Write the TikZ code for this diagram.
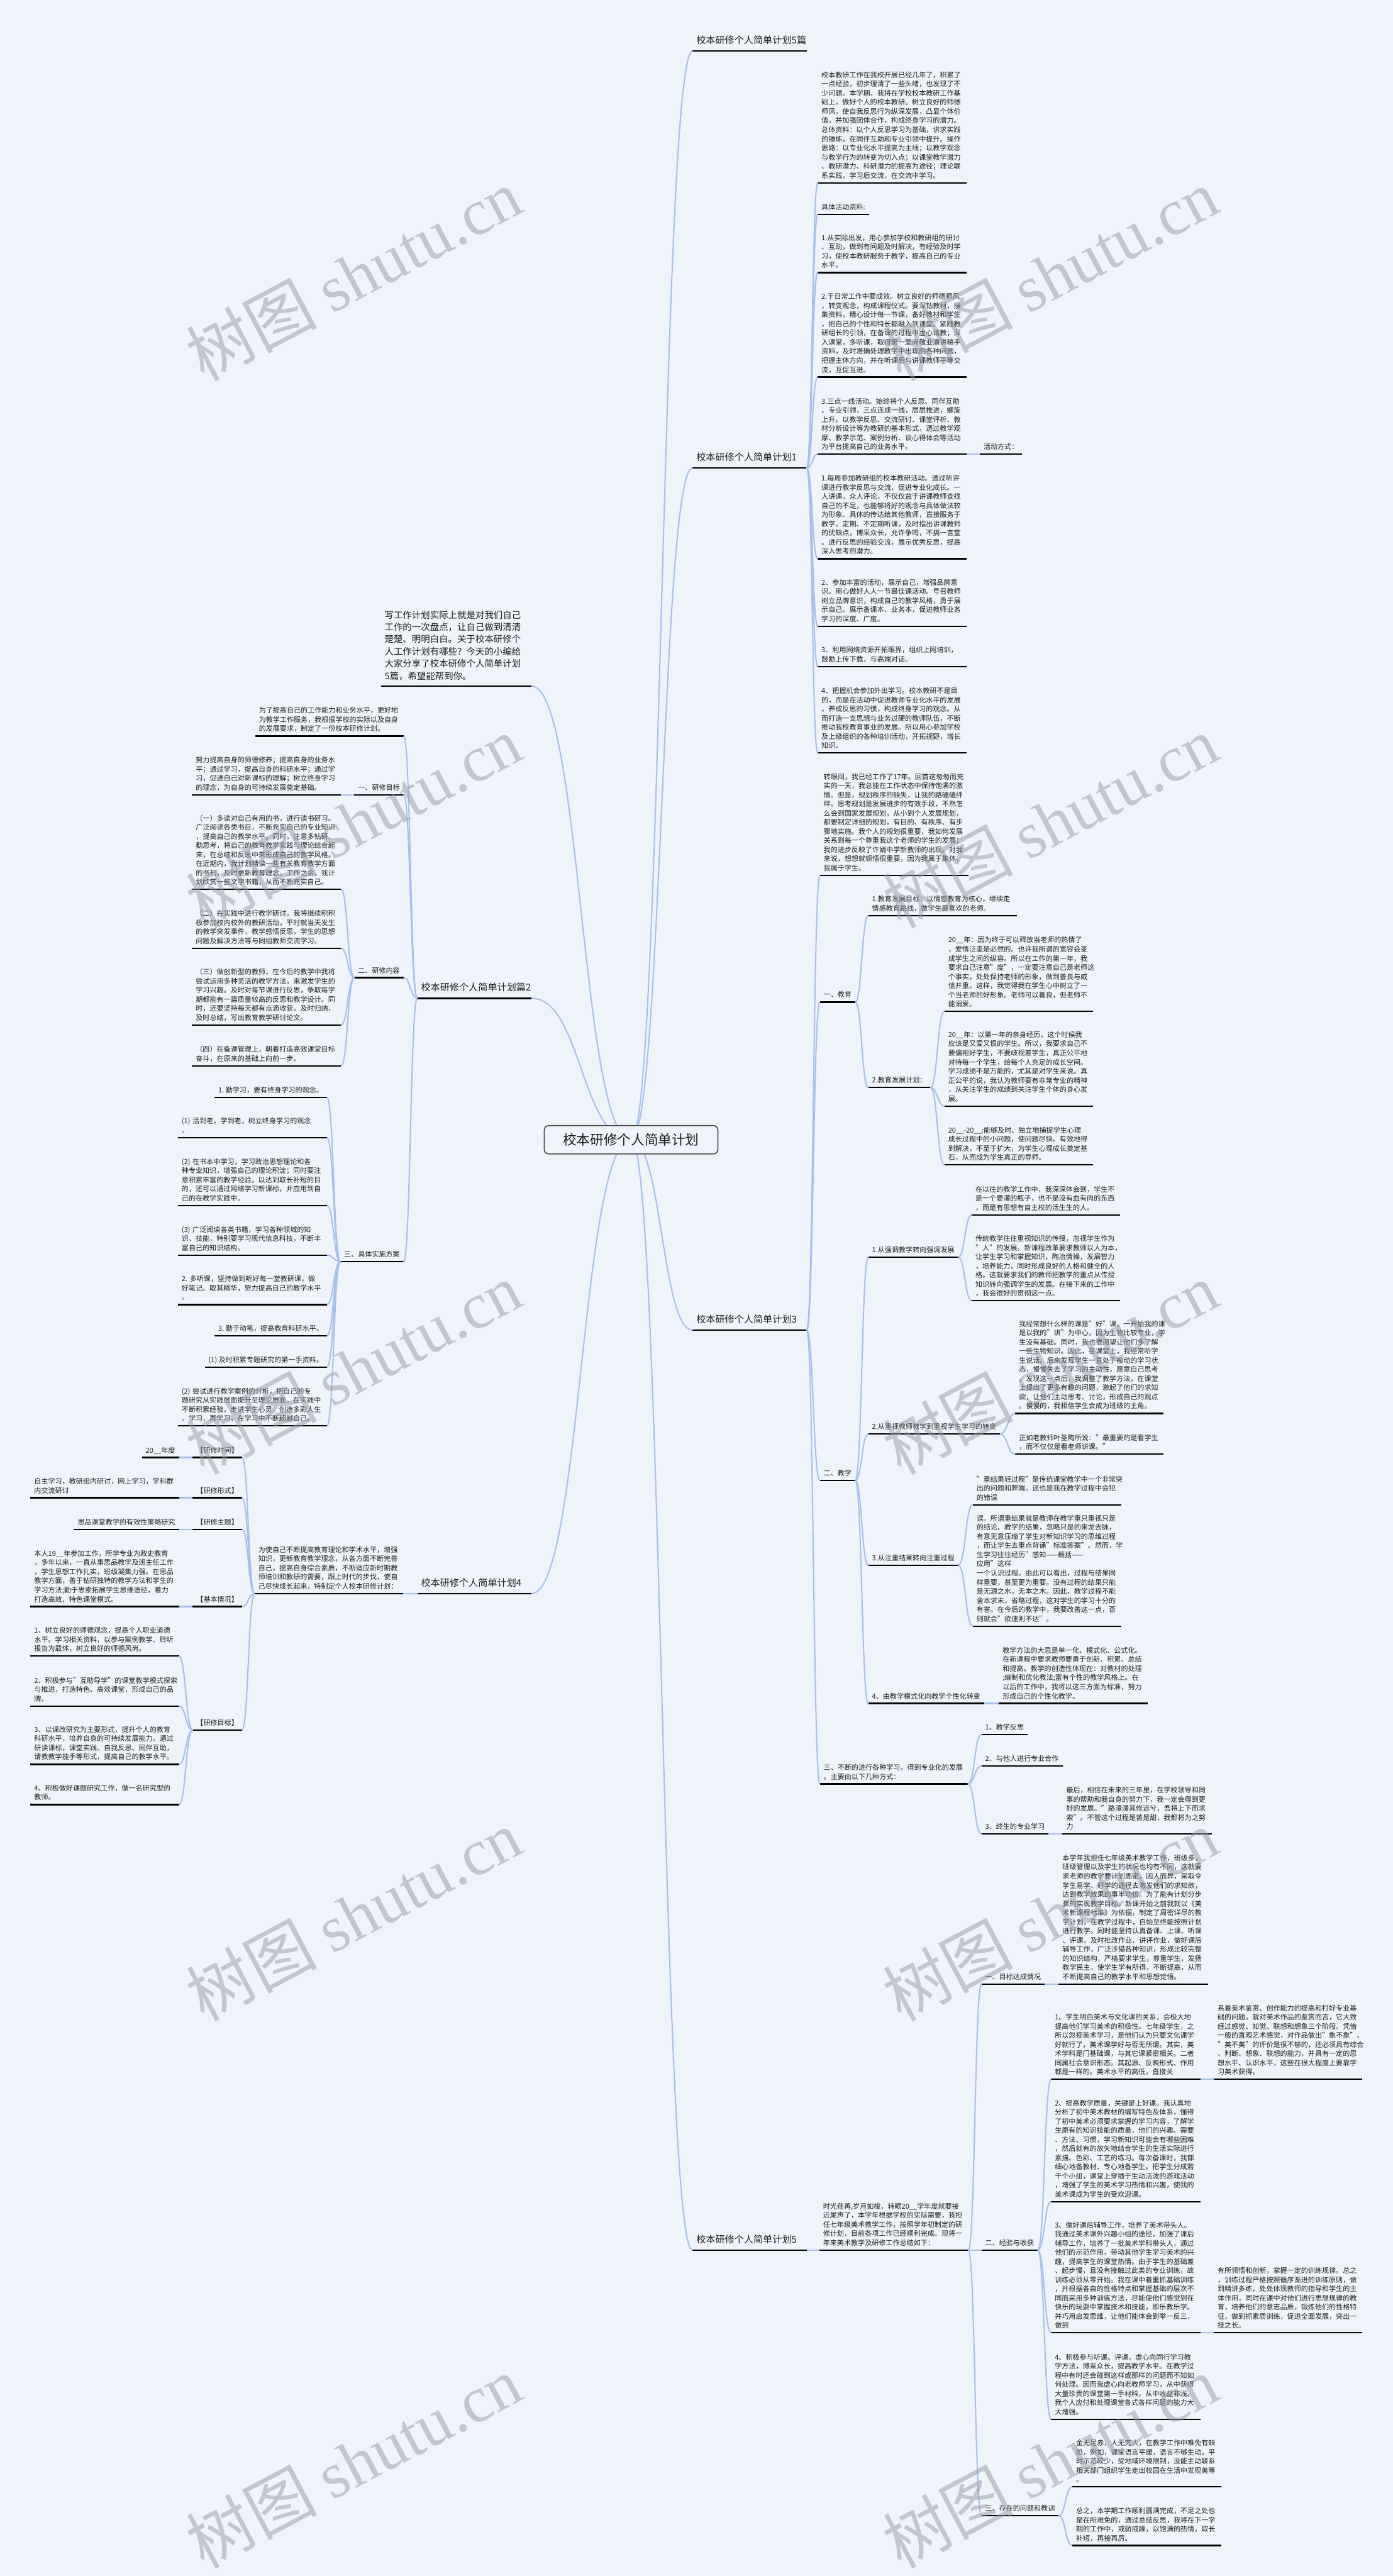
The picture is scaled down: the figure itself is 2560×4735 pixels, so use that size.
\documentclass[tikz,border=0pt]{standalone}
\usepackage{fontspec}
\setmainfont{Noto Sans CJK SC}
\newfontfamily\wmlatin{Liberation Serif}
\usetikzlibrary{calc}
\definecolor{bgc}{RGB}{239,243,250}
\definecolor{lineblue}{RGB}{168,193,234}
\definecolor{txt}{RGB}{30,30,30}
\definecolor{wmgray}{RGB}{150,155,165}
\definecolor{rootborder}{RGB}{80,80,80}
\begin{document}
\begin{tikzpicture}[x=1pt,y=-1pt,
  ul/.style={draw=black,line width=2.6pt},
  conn/.style={draw=lineblue,line width=2.4pt,
    to path={let \p1=(\tikztostart),\p2=(\tikztotarget) in .. controls ({(\x1+\x2)/2},\y1) and ({(\x1+\x2)/2},\y2) .. (\tikztotarget)}},
  base/.style={text=txt,outer sep=0pt,execute at begin node=\strut,execute at end node=\strut,
    append after command={(\tikzlastnode.south west) edge[ul] (\tikzlastnode.south east)}},
  body/.style={base,font=\fontsize{12.8}{16.8}\selectfont,inner xsep=7pt,inner ysep=3.6pt},
  rb/.style={body,anchor=south west},
  lb/.style={body,anchor=south east},
  para/.style={align=left,text width=#1},
  head/.style={base,font=\fontsize{17.5}{22}\selectfont,inner xsep=7pt,inner ysep=6.9pt,align=left,text width=196pt,anchor=south west},
  headL/.style={head,anchor=south east},
  intro/.style={base,font=\fontsize{16.7}{22.4}\selectfont,inner xsep=7pt,inner ysep=5.8pt,align=left,text width=263pt,anchor=south east},
  rootbox/.style={draw=rootborder,line width=2pt,rounded corners=8pt,fill=bgc,font=\fontsize{25}{30}\selectfont,text=txt,minimum width=319pt,minimum height=52pt,inner sep=0pt},
  wm/.style={rotate=28,font=\fontsize{120}{120}\selectfont,text=wmgray,text opacity=0.5}
]
\fill[bgc] (0,0) rectangle (2560,4735);
\useasboundingbox (0,0) rectangle (2560,4735);

% ---------------- right: 5篇 ----------------
\node[head] (h0) at (1273,94) {校本研修个人简单计划5篇};

% ---------------- right: plan 1 ----------------
\node[head] (h1) at (1273,860) {校本研修个人简单计划1};
\node[rb,para=260pt] (c1) at (1503,336) {校本教研工作在我校开展已经几年了，积累了\\一点经验，初步理清了一些头绪，也发现了不\\少问题。本学期，我将在学校校本教研工作基\\础上，做好个人的校本教研。树立良好的师德\\师风，使自我反思行为纵深发展，凸显个体价\\值，并加强团体合作，构成终身学习的潜力。\\总体资料：以个人反思学习为基础，讲求实践\\的锤炼，在同伴互助和专业引领中提升。操作\\思路：以专业化水平提高为主线；以教学观念\\与教学行为的转变为切入点；以课堂教学潜力\\、教研潜力、科研潜力的提高为途径；理论联\\系实践，学习后交流，在交流中学习。};
\node[rb] (c2) at (1503,394) {具体活动资料:};
\node[rb,para=260pt] (c3) at (1503,501) {1.从实际出发，用心参加学校和教研组的研讨\\、互助，做到有问题及时解决，有经验及时学\\习，使校本教研服务于教学，提高自己的专业\\水平。};
\node[rb,para=260pt] (c4) at (1503,693) {2.于日常工作中要成效。树立良好的师德师风\\，转变观念，构成课程仪式。要深钻教材，搜\\集资料，精心设计每一节课，备好教材和学生\\，把自己的个性和特长都融入到课堂。紧随教\\研组长的引领，在备课的过程中虚心请教；深\\入课堂，多听课，取得第一爱岗敬业演讲稿手\\资料，及时准确处理教学中出现的各种问题，\\把握主体方向，并在听课后与讲课教师平等交\\流，互促互进。};
\node[rb,para=260pt] (c5) at (1503,835) {3.三点一线活动。始终将个人反思、同伴互助\\、专业引领，三点连成一线，层层推进，螺旋\\上升。以教学反思、交流研讨、课堂评析、教\\材分析设计等为教研的基本形式，透过教学观\\摩、教学示范、案例分析、谈心得体会等活动\\为平台提高自己的业务水平。};
\node[rb] (c5a) at (1801,835) {活动方式：};
\node[rb,para=260pt] (c6) at (1503,1027) {1.每周参加教研组的校本教研活动。透过听评\\课进行教学反思与交流，促进专业化成长。一\\人讲课，众人评论，不仅仅益于讲课教师查找\\自己的不足，也能够将好的观念与具体做法较\\为形象、具体的传达给其他教师，直接服务于\\教学。定期、不定期听课，及时指出讲课教师\\的优缺点，博采众长，允许争鸣，不搞一言堂\\。进行反思的经验交流，展示优秀反思，提高\\深入思考的潜力。};
\node[rb,para=260pt] (c7) at (1503,1151) {2、参加丰富的活动，展示自己，增强品牌意\\识。用心做好人人一节最佳课活动。号召教师\\树立品牌意识，构成自己的教学风格，勇于展\\示自己。展示备课本、业务本，促进教师业务\\学习的深度、广度。};
\node[rb,para=260pt] (c8) at (1503,1225) {3、利用网络资源开拓眼界，组织上网培训，\\鼓励上传下载，与高端对话。};
\node[rb,para=260pt] (c9) at (1503,1384) {4、把握机会参加外出学习。校本教研不是目\\的，而是在活动中促进教师专业化水平的发展\\，养成反思的习惯，构成终身学习的观念。从\\而打造一支思想与业务过硬的教师队伍，不断\\推动我校教育事业的发展。所以用心参加学校\\及上级组织的各种培训活动，开拓视野，增长\\知识。};

% ---------------- right: plan 3 ----------------
\node[head] (h3) at (1273,2445) {校本研修个人简单计划3};
\node[rb,para=259pt] (p3a) at (1507,1609) {转眼间，我已经工作了17年。回首这匆匆而充\\实的一天，我总能在工作状态中保持饱满的激\\情。但是，规划秩序的缺失，让我的路磕磕绊\\绊。思考规划是发展进步的有效手段，不然怎\\么会到国家发展规划，从小到个人发展规划，\\都要制定详细的规划，有目的、有秩序、有步\\骤地实施。我个人的规划很重要，我如何发展\\关系到每一个尊重我这个老师的学生的发展；\\我的进步反映了许婧中学新教师的出现。对我\\来说，想想就顿悟很重要，因为我属于集体，\\我属于学生。};
\node[rb] (p3b) at (1507,1842) {一、教育};
\node[rb,para=259pt] (p3b1) at (1596,1683) {1.教育发展目标：以情感教育为核心，继续走\\情感教育路线，做学生最喜欢的老师。};
\node[rb] (p3b2) at (1596,1999) {2.教育发展计划：};
\node[rb,para=259pt] (p3b2a) at (1736,1859) {20\_\_年：因为终于可以释放当老师的热情了\\，爱情泛滥是必然的。也许我所谓的宽容会变\\成学生之间的纵容。所以在工作的第一年，我\\要求自己注意"度"，一定要注意自己是老师这\\个事实，处处保持老师的形象，做到善良与威\\信并重。这样，我觉得我在学生心中树立了一\\个当老师的好形象。老师可以善良，但老师不\\能溺爱。};
\node[rb,para=259pt] (p3b2b) at (1736,2033) {20\_\_年：以第一年的亲身经历，这个时候我\\应该是又爱又恨的学生。所以，我要求自己不\\要偏袒好学生，不要歧视差学生，真正公平地\\对待每一个学生，给每个人充足的成长空间。\\学习成绩不是万能的，尤其是对学生来说。真\\正公平的说，我认为教师要有非常专业的精神\\，从关注学生的成绩到关注学生个体的身心发\\展。};
\node[rb,para=259pt] (p3b2c) at (1736,2141) {20\_\_-20\_\_:能够及时、独立地捕捉学生心理\\成长过程中的小问题，使问题尽快、有效地得\\到解决，不至于扩大，为学生心理成长奠定基\\石，从而成为学生真正的导师。};
\node[rb] (p3c) at (1507,2721) {二、教学};
\node[rb] (p3c1) at (1596,2311) {1.从强调教学转向强调发展};
\node[rb,para=259pt] (p3c1a) at (1786,2233) {在以往的教学工作中，我深深体会到，学生不\\是一个要灌的瓶子，也不是没有血有肉的东西\\，而是有思想有自主权的活生生的人。};
\node[rb,para=259pt] (p3c1b) at (1786,2391) {传统教学往往重视知识的传授，忽视学生作为\\"人"的发展。新课程改革要求教师以人为本，\\让学生学习和掌握知识，陶冶情操，发展智力\\，培养能力，同时形成良好的人格和健全的人\\格。这就要求我们的教师把教学的重点从传授\\知识转向强调学生的发展。在接下来的工作中\\，我会很好的贯彻这一点。};
\node[rb] (p3c2) at (1596,2636) {2.从重视教师教学到重视学生学习的转变};
\node[rb,para=259pt] (p3c2a) at (1866,2598) {我经常想什么样的课是"好"课。一开始我的课\\是以我的"讲"为中心，因为生物比较专业，学\\生没有基础。同时，我也很渴望让他们多了解\\一些生物知识。因此，在课堂上，我经常听学\\生说话。后来发现学生一直处于被动的学习状\\态，慢慢失去了学习的主动性，愿意自己思考\\。发现这一点后，我调整了教学方法，在课堂\\上提出了更多有趣的问题，激起了他们的求知\\欲，让他们主动思考、讨论，形成自己的观点\\。慢慢的，我相信学生会成为班级的主角。};
\node[rb,para=259pt] (p3c2b) at (1866,2673) {正如老教师叶圣陶所说："最重要的是看学生\\，而不仅仅是看老师讲课。"};
\node[rb] (p3c3) at (1596,2877) {3.从注重结果转向注重过程};
\node[rb,para=259pt] (p3c3a) at (1788,2766) {"重结果轻过程"是传统课堂教学中一个非常突\\出的问题和弊端。这也是我在教学过程中会犯\\的错误};
\node[rb,para=259pt] (p3c3b) at (1788,2989) {误。所谓重结果就是教师在教学重只重视只是\\的结论、教学的结果，忽略只是的来龙去脉，\\有意无意压缩了学生对新知识学习的思维过程\\，而让学生去重点背诵"标准答案"。然而，学\\生学习往往经历"感知——概括——应用"这样\\一个认识过程。由此可以看出，过程与结果同\\样重要，甚至更为重要。没有过程的结果只能\\是无源之水，无本之木。因此，教学过程不能\\舍本求末，省略过程，这对学生的学习十分的\\有害。在今后的教学中，我要改善这一点，否\\则就会"欲速则不达"。};
\node[rb] (p3c4) at (1596,3131) {4、由教学模式化向教学个性化转变};
\node[rb,para=260pt] (p3c4a) at (1836,3131) {教学方法的大忌是单一化、模式化、公式化。\\在新课程中要求教师要勇于创新、积累、总结\\和提高。教学的创造性体现在：对教材的处理\\;编制和优化教法;富有个性的教学风格上。在\\以后的工作中，我将以这三方面为标准，努力\\形成自己的个性化教学。};
\node[rb,para=258pt] (p3d) at (1507,3279) {三、不断的进行各种学习，得到专业化的发展\\。主要由以下几种方式：};
\node[rb] (p3d1) at (1804,3188) {1、教学反思};
\node[rb] (p3d2) at (1804,3246) {2、与他人进行专业合作};
\node[rb] (p3d3) at (1804,3371) {3、终生的专业学习};
\node[rb,para=261pt] (p3d3a) at (1953,3371) {最后，相信在未来的三年里，在学校领导和同\\事的帮助和我自身的努力下，我一定会得到更\\好的发展。"路漫漫其修远兮，吾将上下而求\\索"。不管这个过程是苦是甜，我都将为之努\\力};

% ---------------- right: plan 5 ----------------
\node[head] (h5) at (1273,4136) {校本研修个人简单计划5};
\node[rb,para=260pt] (p5a) at (1506,4136) {时光荏苒,岁月如梭，转眼20\_\_学年度就要接\\近尾声了，本学年根据学校的实际需要，我担\\任七年级美术教学工作，按照学年初制定的研\\修计划，目前各项工作已经顺利完成。现将一\\年来美术教学及研修工作总结如下：};
\node[rb] (p5b) at (1804,3647) {一、目标达成情况};
\node[rb,para=261pt] (p5b1) at (1946,3647) {本学年我担任七年级美术教学工作，班级多，\\班级管理以及学生的状况也均有不同，这就要\\求老师的教学要计划周密，因人而异，采取令\\学生易学、好学的途径去激发他们的求知欲，\\达到教学效果的事半功倍。为了能有计划分步\\骤的实现教学目标，新课开始之前我就以《美\\术新课程标准》为依据，制定了周密详尽的教\\学计划，在教学过程中，自始至终能按照计划\\进行教学。同时能坚持认真备课、上课、听课\\、评课，及时批改作业、讲评作业，做好课后\\辅导工作，广泛涉猎各种知识，形成比较完整\\的知识结构，严格要求学生，尊重学生，发扬\\教学民主，使学生学有所得，不断提高，从而\\不断提高自己的教学水平和思想觉悟。};
\node[rb] (p5c) at (1804,4136) {二、经验与收获};
\node[rb,para=261pt] (p5c1) at (1932,3822) {1、学生明白美术与文化课的关系，会极大地\\提高他们学习美术的积极性。七年级学生，之\\所以忽视美术学习，是他们认为只要文化课学\\好就行了，美术课学好与否无所谓。其实，美\\术学科是门基础课，与其它课紧密相关。二者\\同属社会意识形态。其起源、反映形式、作用\\都是一样的。美术水平的高低，直接关};
\node[rb,para=259pt] (p5c1a) at (2231,3822) {系着美术鉴赏、创作能力的提高和打好专业基\\础的问题。就对美术作品的鉴赏而言，它大致\\经过感觉、知觉、联想和想象三个阶段。凭借\\一般的直观艺术感觉，对作品做出"象不象"、\\"美不美"的评价是很不够的，还必须具有综合\\、判断、想象、联想的能力，并具有一定的思\\想水平、认识水平，这些在很大程度上要靠学\\习美术获得。};
\node[rb,para=261pt] (p5c2) at (1932,4047) {2、提高教学质量，关键是上好课。我认真地\\分析了初中美术教材的编写特色及体系，懂得\\了初中美术必须要求掌握的学习内容，了解学\\生原有的知识技能的质量，他们的兴趣、需要\\、方法、习惯，学习新知识可能会有哪些困难\\，然后就有的放矢地结合学生的生活实际进行\\素描、色彩、工艺的练习。每次备课时，我都\\细心地备教材、专心地备学生。把学生分成若\\干个小组，课堂上穿插于生动活泼的游戏活动\\，增强了学生的美术学习热情和兴趣，使我的\\美术课成为学生的受欢迎课。};
\node[rb,para=261pt] (p5c3) at (1932,4288) {3、做好课后辅导工作，培养了美术带头人。\\我通过美术课外兴趣小组的途径，加强了课后\\辅导工作，培养了一批美术学科带头人，通过\\他们的示范作用，带动其他学生学习美术的兴\\趣，提高学生的课堂热情。由于学生的基础差\\、起步慢，且没有接触过此类的专业训练，故\\训练必须从零开始。我在课中着重抓基础训练\\，并根据各自的性格特点和掌握基础的层次不\\同而采用多种训练方法，尽能使他们感觉到在\\快乐的玩耍中掌握技术和技能，即乐教乐学。\\并巧用启发思维，让他们能体会到举一反三，\\做到};
\node[rb,para=259pt] (p5c3a) at (2231,4288) {有所领悟和创新，掌握一定的训练规律。总之\\，训练过程严格按照循序渐进的训练原则，做\\到精讲多练，处处体现教师的指导和学生的主\\体作用，同时在课中对他们进行思想规律的教\\育，培养他们的意志品质，锻炼他们的性格特\\征，做到抓素质训练，促进全面发展，突出一\\技之长。};
\node[rb,para=261pt] (p5c4) at (1932,4447) {4、积极参与听课、评课，虚心向同行学习教\\学方法，博采众长，提高教学水平。在教学过\\程中有时还会碰到这样或那样的问题而不知如\\何处理。因而我虚心向老教师学习，从中获得\\大量珍贵的课堂第一手材料，从中收益非浅。\\我个人应付和处理课堂各式各样问题的能力大\\大增强。};
\node[rb] (p5d) at (1804,4624) {三、存在的问题和教训};
\node[rb,para=260pt] (p5d1) at (1971,4571) {金无足赤，人无完人，在教学工作中难免有缺\\陷，例如，课堂语言平缓，语言不够生动，平\\时示范较少，受地域环境限制，没能主动联系\\相关部门组织学生走出校园在生活中发现美等\\。};
\node[rb,para=260pt] (p5d2) at (1971,4679) {总之，本学期工作顺利圆满完成，不足之处也\\是在所难免的，通过总结反思，我将在下一学\\期的工作中，戒骄戒躁，以饱满的热情，取长\\补短，再接再厉。};

% ---------------- left: intro ----------------
\node[intro] (intro) at (977,1261) {写工作计划实际上就是对我们自己\\工作的一次盘点，让自己做到清清\\楚楚、明明白白。关于校本研修个\\人工作计划有哪些？今天的小编给\\大家分享了校本研修个人简单计划\\5篇，希望能帮到你。};

% ---------------- left: plan 2 ----------------
\node[headL] (h2) at (977,1835) {校本研修个人简单计划篇2};
\node[lb,para=259pt] (p2a) at (742,1353) {为了提高自己的工作能力和业务水平，更好地\\为教学工作服务，我根据学校的实际以及自身\\的发展要求，制定了一份校本研修计划。};
\node[lb] (p2b) at (742,1461) {一、研修目标};
\node[lb,para=260pt] (p2b1) at (627,1461) {努力提高自身的师德修养；提高自身的业务水\\平；通过学习，提高自身的科研水平；通过学\\习，促进自己对新课标的理解；树立终身学习\\的理念，为自身的可持续发展奠定基础。};
\node[lb] (p2c) at (742,1797) {二、研修内容};
\node[lb,para=260pt] (p2c1) at (627,1635) {（一）多读对自己有用的书，进行读书研习。\\广泛阅读各类书目，不断充实自己的专业知识\\，提高自己的教学水平。同时，注意多钻研、\\勤思考，将自己的教育教学实践与理论结合起\\来，在总结和反思中来形成自己的教学风格。\\在近期内，我计划精读一些有关教育教学方面\\的书刊，及时更新教育理念。工作之余，我计\\划欣赏一些文学书籍，从而不断充实自己。};
\node[lb,para=260pt] (p2c2) at (627,1743) {（二）在实践中进行教学研讨。我将继续积积\\极参加校内校外的教研活动，平时就当天发生\\的教学突发事件，教学感悟反思，学生的思想\\问题及解决方法等与同组教师交流学习。};
\node[lb,para=260pt] (p2c3) at (627,1884) {（三）做创新型的教师，在今后的教学中我将\\尝试运用多种灵活的教学方法，来激发学生的\\学习兴趣。及时对每节课进行反思，争取每学\\期都能有一篇质量较高的反思和教学设计。同\\时，还要坚持每天都有点滴收获，及时归纳、\\及时总结，写出教育教学研讨论文。};
\node[lb,para=260pt] (p2c4) at (627,1959) {（四）在备课管理上，朝着打造高效课堂目标\\奋斗，在原来的基础上向前一步。};
\node[lb] (p2d) at (742,2319) {三、具体实施方案};
\node[lb] (p2d1) at (601,2017) {1.~勤学习，要有终身学习的观念。};
\node[lb,para=260pt] (p2d2) at (601,2091) {(1)~活到老，学到老，树立终身学习的观念\\。};
\node[lb,para=260pt] (p2d3) at (601,2216) {(2)~在书本中学习，学习政治思想理论和各\\种专业知识，增强自己的理论积淀；同时要注\\意积累丰富的教学经验，以达到取长补短的目\\的，还可以通过网络学习新课标，并应用到自\\己的在教学实践中。};
\node[lb,para=260pt] (p2d4) at (601,2307) {(3)~广泛阅读各类书籍，学习各种领域的知\\识、技能，特别要学习现代信息科技，不断丰\\富自己的知识结构。};
\node[lb,para=260pt] (p2d5) at (601,2398) {2.~多听课，坚持做到听好每一堂教研课，做\\好笔记。取其精华，努力提高自己的教学水平\\。};
\node[lb] (p2d6) at (601,2455) {3.~勤于动笔，提高教育科研水平。};
\node[lb] (p2d7) at (601,2513) {(1)~及时积累专题研究的第一手资料。};
\node[lb,para=260pt] (p2d8) at (601,2621) {(2)~尝试进行教学案例的分析，把自己的专\\题研究从实践层面提升至理论层面。在实践中\\不断积累经验，走进学生心灵，创造多彩人生\\。学习，再学习，在学习中不断超越自己。};

% ---------------- left: plan 4 ----------------
\node[headL] (h4) at (977,2929) {校本研修个人简单计划4};
\node[lb,para=259pt] (p4a) at (741,2929) {为使自己不断提高教育理论和学术水平，增强\\知识，更新教育教学理念，从各方面不断完善\\自己，提高自身综合素质，不断适应新时期教\\师培训和教研的需要，跟上时代的步伐，使自\\己尽快成长起来，特制定个人校本研修计划：};
\node[lb] (p4b1) at (445,2679) {【研修时间】};
\node[lb] (p4b1a) at (329,2679) {20\_\_年度};
\node[lb] (p4b2) at (445,2753) {【研修形式】};
\node[lb,para=259pt] (p4b2a) at (329,2753) {自主学习，教研组内研讨，网上学习，学科群\\内交流研讨};
\node[lb] (p4b3) at (445,2811) {【研修主题】};
\node[lb] (p4b3a) at (329,2811) {思品课堂教学的有效性策略研究};
\node[lb] (p4b4) at (445,2953) {【基本情况】};
\node[lb,para=259pt] (p4b4a) at (329,2953) {本人19\_\_年参加工作，所学专业为政史教育\\，多年以来，一直从事思品教学及班主任工作\\，学生思想工作扎实，班级凝集力强。在思品\\教学方面，善于钻研独特的教学方法和学生的\\学习方法;勤于思索拓展学生思维途径，着力\\打造高效、特色课堂模式。};
\node[lb] (p4b5) at (445,3180) {【研修目标】};
\node[lb,para=259pt] (p4b5a) at (329,3044) {1、树立良好的师德观念，提高个人职业道德\\水平。学习相关资料，以参与案例教学、聆听\\报告为载体，树立良好的师德风尚。};
\node[lb,para=259pt] (p4b5b) at (329,3136) {2、积极参与"互助导学"的课堂教学模式探索\\与推进，打造特色、高效课堂，形成自己的品\\牌。};
\node[lb,para=259pt] (p4b5c) at (329,3243) {3、以课改研究为主要形式，提升个人的教育\\科研水平，培养自身的可持续发展能力。通过\\研读课标，课堂实践、自我反思、同伴互助，\\请教教学能手等形式，提高自己的教学水平。};
\node[lb,para=259pt] (p4b5d) at (329,3317) {4、积极做好课题研究工作，做一名研究型的\\教师。};

% ---------------- connectors ----------------
\coordinate (rc) at (1160,2095);
\foreach \t in {h0,h1,h3,h5} \draw[conn] (rc) to (\t.south west);
\foreach \t in {intro,h2,h4} \draw[conn] (\t.south east) to (rc);

\foreach \c in {c1,c2,c3,c4,c5,c6,c7,c8,c9} \draw[conn] (h1.south east) to (\c.south west);
\draw[conn] (c5.south east) to (c5a.south west);

\foreach \c in {p3a,p3b,p3c,p3d} \draw[conn] (h3.south east) to (\c.south west);
\foreach \c in {p3b1,p3b2} \draw[conn] (p3b.south east) to (\c.south west);
\foreach \c in {p3b2a,p3b2b,p3b2c} \draw[conn] (p3b2.south east) to (\c.south west);
\foreach \c in {p3c1,p3c2,p3c3,p3c4} \draw[conn] (p3c.south east) to (\c.south west);
\foreach \c in {p3c1a,p3c1b} \draw[conn] (p3c1.south east) to (\c.south west);
\foreach \c in {p3c2a,p3c2b} \draw[conn] (p3c2.south east) to (\c.south west);
\foreach \c in {p3c3a,p3c3b} \draw[conn] (p3c3.south east) to (\c.south west);
\draw[conn] (p3c4.south east) to (p3c4a.south west);
\foreach \c in {p3d1,p3d2,p3d3} \draw[conn] (p3d.south east) to (\c.south west);
\draw[conn] (p3d3.south east) to (p3d3a.south west);

\draw[conn] (h5.south east) to (p5a.south west);
\foreach \c in {p5b,p5c,p5d} \draw[conn] (p5a.south east) to (\c.south west);
\draw[conn] (p5b.south east) to (p5b1.south west);
\foreach \c in {p5c1,p5c2,p5c3,p5c4} \draw[conn] (p5c.south east) to (\c.south west);
\draw[conn] (p5c1.south east) to (p5c1a.south west);
\draw[conn] (p5c3.south east) to (p5c3a.south west);
\foreach \c in {p5d1,p5d2} \draw[conn] (p5d.south east) to (\c.south west);

\foreach \c in {p2a,p2b,p2c,p2d} \draw[conn] (h2.south west) to (\c.south east);
\draw[conn] (p2b.south west) to (p2b1.south east);
\foreach \c in {p2c1,p2c2,p2c3,p2c4} \draw[conn] (p2c.south west) to (\c.south east);
\foreach \c in {p2d1,p2d2,p2d3,p2d4,p2d5,p2d6,p2d7,p2d8} \draw[conn] (p2d.south west) to (\c.south east);

\draw[conn] (h4.south west) to (p4a.south east);
\foreach \c in {p4b1,p4b2,p4b3,p4b4,p4b5} \draw[conn] (p4a.south west) to (\c.south east);
\draw[conn] (p4b1.south west) to (p4b1a.south east);
\draw[conn] (p4b2.south west) to (p4b2a.south east);
\draw[conn] (p4b3.south west) to (p4b3a.south east);
\draw[conn] (p4b4.south west) to (p4b4a.south east);
\foreach \c in {p4b5a,p4b5b,p4b5c,p4b5d} \draw[conn] (p4b5.south west) to (\c.south east);

% ---------------- root ----------------
\node[rootbox] (root) at (rc) {校本研修个人简单计划};

% ---------------- watermark ----------------
\foreach \wx in {650,1930} {
  \foreach \wy in {505,1510,2515,3520,4525} {
    \node[wm] (wm-\wx-\wy) at (\wx,\wy) {树图 {\wmlatin shutu.cn}};
  }
}
\end{tikzpicture}
\end{document}
